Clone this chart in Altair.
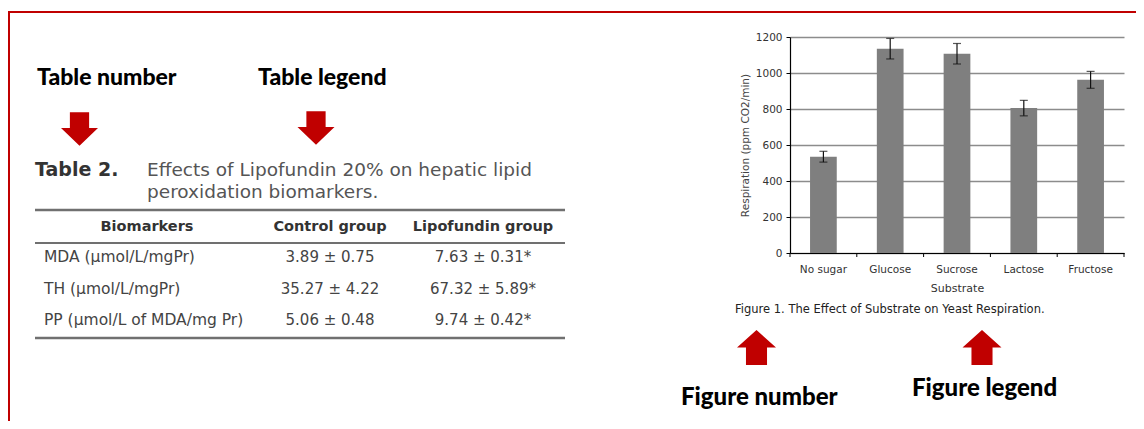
import altair as alt
import pandas as pd

# ---------------- data ----------------
substrates = ["No sugar", "Glucose", "Sucrose", "Lactose", "Fructose"]
respiration = [535, 1135, 1107, 805, 962]
resp_error = [30, 57, 57, 43, 47]
y_ticks = [0, 200, 400, 600, 800, 1000, 1200]

table_header = ["Biomarkers", "Control group", "Lipofundin group"]
biomarkers = ["MDA (µmol/L/mgPr)", "TH (µmol/L/mgPr)", "PP (µmol/L of MDA/mg Pr)"]
control_group = ["3.89 ± 0.75", "35.27 ± 4.22", "5.06 ± 0.48"]
lipofundin_group = ["7.63 ± 0.31*", "67.32 ± 5.89*", "9.74 ± 0.42*"]

table_title_bold = "Table 2."
table_title_lines = ["Effects of Lipofundin 20% on hepatic lipid", "peroxidation biomarkers."]
figure_caption = "Figure 1. The Effect of Substrate on Yeast Respiration."
slide_labels = ["Table number", "Table legend", "Figure number", "Figure legend"]

df = pd.DataFrame({
    "substrate": substrates,
    "resp": respiration,
    "lo": [v - e for v, e in zip(respiration, resp_error)],
    "hi": [v + e for v, e in zip(respiration, resp_error)],
})

# ---------------- layout helpers ----------------
X0, Y0 = 790, 37          # page position of the plot origin
RED = "#c00000"
VFONT = "DejaVu Sans"
CFONT = "Lato"


def one():
    return pd.DataFrame({"t": [""]})


def txt(s, px, py, size, font=VFONT, weight="normal", color="#333333", align="left"):
    return alt.Chart(pd.DataFrame({"t": [s]})).mark_text(
        align=align, baseline="middle", fontSize=size, font=font,
        fontWeight=weight, color=color
    ).encode(text="t:N", x=alt.value(px - X0), y=alt.value(py - Y0))


def hline(px1, px2, py, color, width):
    return alt.Chart(one()).mark_rule(color=color, strokeWidth=width).encode(
        x=alt.value(px1 - X0), x2=alt.value(px2 - X0), y=alt.value(py - Y0))


def vline(px, py1, py2, color, width):
    return alt.Chart(one()).mark_rule(color=color, strokeWidth=width).encode(
        x=alt.value(px - X0), y=alt.value(py1 - Y0), y2=alt.value(py2 - Y0))


DOWN = "M-0.52,-0.9L0.52,-0.9L0.52,-0.05L1,-0.05L0,0.9L-1,-0.05L-0.52,-0.05Z"
UP = "M-0.54,0.9L0.54,0.9L0.54,0L1,0L0,-0.9L-1,0L-0.54,0Z"


def arrow(path, px, py, w):
    return alt.Chart(one()).mark_point(
        shape=path, filled=True, size=w * w, color=RED, opacity=1, strokeWidth=0
    ).encode(x=alt.value(px - X0), y=alt.value(py - Y0))


# ---------------- bar chart ----------------
YSCALE = alt.Scale(domain=[0, 1200], nice=False)
XSCALE = alt.Scale(paddingInner=0, paddingOuter=0)

AX_X = alt.Axis(title="Substrate", labelAngle=0, ticks=False,
                labelFont=VFONT, labelFontSize=10.5, labelColor="#333333",
                labelPadding=11, titleFont=VFONT, titleFontSize=11,
                titleFontWeight="normal", titleColor="#333333",
                titlePadding=8, domainColor="#000000", domainWidth=1.2)

AX_Y = alt.Axis(values=y_ticks, format="d", labelOverlap=False,
                title="Respiration (ppm CO2/min)",
                grid=True, gridColor="#8c8c8c", gridWidth=1.3,
                domainColor="#000000", domainWidth=1.2,
                tickColor="#000000", tickSize=4,
                labelFont=VFONT, labelFontSize=10.5, labelColor="#333333",
                labelPadding=4, titleFont=VFONT, titleFontSize=10.5,
                titleFontWeight="normal", titleColor="#444444",
                titlePadding=5)


def xe(**kw):
    return alt.X("substrate:N", sort=substrates, scale=XSCALE, axis=AX_X, **kw)


def ye(field):
    return alt.Y(field, scale=YSCALE, axis=AX_Y)


base = alt.Chart(df)
bars = base.mark_bar(color="#7f7f7f", width=alt.RelativeBandSize(0.4)).encode(
    x=xe(), y=ye("resp:Q"))
err = base.mark_rule(color="#111111", strokeWidth=1.2).encode(
    x=xe(), y=ye("lo:Q"), y2="hi:Q")
cap_hi = base.mark_tick(color="#111111", thickness=1.2, size=8).encode(
    x=xe(), y=ye("hi:Q"))
cap_lo = base.mark_tick(color="#111111", thickness=1.2, size=8).encode(
    x=xe(), y=ye("lo:Q"))
xticks = base.mark_rule(color="#000000", strokeWidth=1).encode(
    x=xe(bandPosition=0), y=alt.value(216), y2=alt.value(220))
xtick_end = base.transform_filter(alt.datum.substrate == substrates[-1]).mark_rule(
    color="#000000", strokeWidth=1).encode(
    x=xe(bandPosition=1), y=alt.value(216), y2=alt.value(220))

layers = [bars, err, cap_hi, cap_lo, xticks, xtick_end]

# figure caption
layers.append(txt(figure_caption, 735, 310, 11.5, color="#222222"))

# ---------------- slide frame ----------------
layers.append(hline(8, 1144, 12, RED, 2))
layers.append(vline(9, 12, 429, RED, 2))

# ---------------- slide labels and arrows ----------------
layers.append(txt(slide_labels[0], 37, 78, 23, font=CFONT, weight=900, color="#000000"))
layers.append(txt(slide_labels[1], 258, 78, 23, font=CFONT, weight=900, color="#000000"))
layers.append(txt(slide_labels[2], 681, 398, 24, font=CFONT, weight=900, color="#000000"))
layers.append(txt(slide_labels[3], 912, 389, 24, font=CFONT, weight=900, color="#000000"))
layers.append(arrow(DOWN, 79.5, 129, 37))
layers.append(arrow(DOWN, 316, 128, 37))
layers.append(arrow(UP, 756.5, 347.5, 39))
layers.append(arrow(UP, 982, 347.5, 39))

# ---------------- table ----------------
layers.append(txt(table_title_bold, 35, 170, 19, weight="bold", color="#333333"))
layers.append(txt(table_title_lines[0], 147, 170, 18.5, color="#555555"))
layers.append(txt(table_title_lines[1], 147, 192, 18.5, color="#555555"))
layers.append(hline(35, 565, 210, "#707070", 2.5))
col_x = [147, 330, 483]
for h, cx in zip(table_header, col_x):
    layers.append(txt(h, cx, 227, 14.5, weight="bold", color="#333333", align="center"))
layers.append(hline(35, 565, 243, "#707070", 2))
row_y = [257, 289, 320]
for b, c, l, ry in zip(biomarkers, control_group, lipofundin_group, row_y):
    layers.append(txt(b, 44, ry, 15.5, color="#444444"))
    layers.append(txt(c, col_x[1], ry, 15, color="#444444", align="center"))
    layers.append(txt(l, col_x[2], ry, 15, color="#444444", align="center"))
layers.append(hline(35, 565, 338, "#707070", 2.5))

chart = alt.layer(*layers).properties(
    width=334, height=216,
    autosize=alt.AutoSizeParams(type="none"),
    padding={"left": 782, "top": 29, "right": 12, "bottom": 168},
    background="white",
).configure_view(stroke=None)

chart.save("out.html", embed_options={"renderer": "svg", "actions": False})
